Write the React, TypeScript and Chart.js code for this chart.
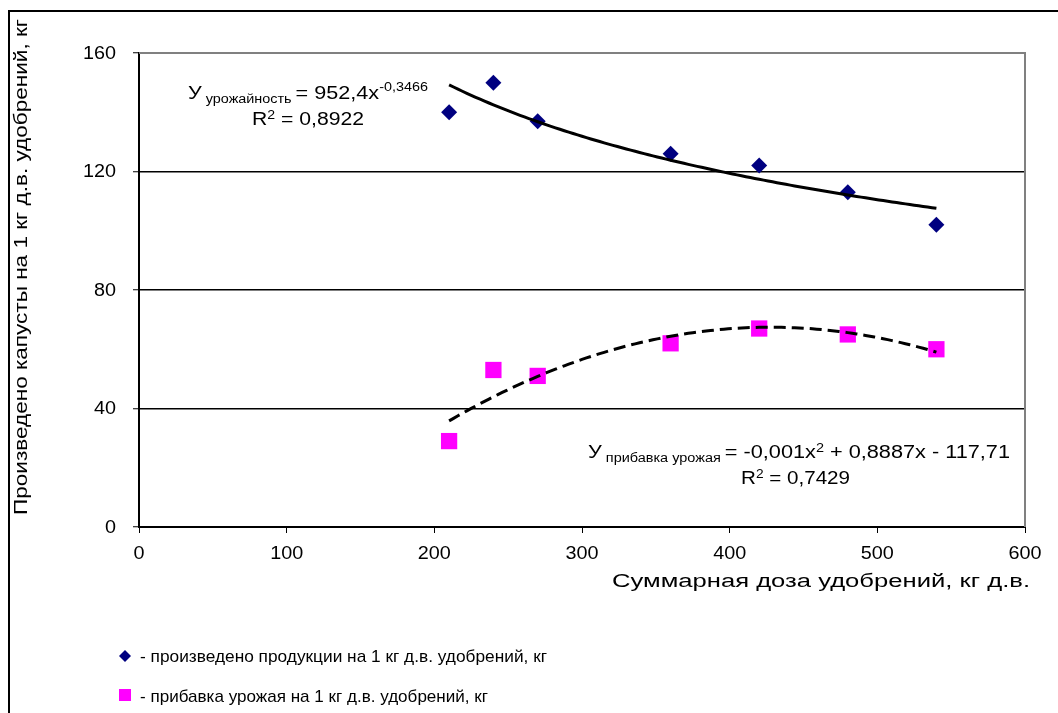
import React, { useEffect, useRef } from 'react';
import { Chart, registerables } from 'chart.js';

Chart.register(...registerables);

// ---- data ----
const doses = [210, 240, 270, 360, 420, 480, 540];
const yieldPerKg = [140, 150, 137, 126, 122, 113, 102];
const gainPerKg = [29, 53, 51, 62, 67, 65, 60];
const xTickValues = [0, 100, 200, 300, 400, 500, 600];
const yTickValues = [0, 40, 80, 120, 160];

const yTitle = 'Произведено капусты на 1 кг д.в. удобрений, кг';
const xTitle = 'Суммарная доза удобрений, кг д.в.';
const legendLabels = [
  '- произведено продукции на 1 кг д.в. удобрений, кг',
  '- прибавка урожая на 1 кг д.в. удобрений, кг',
];
const eqYieldName = 'урожайность';
const eqYieldBody = '952,4x';
const eqYieldExp = '-0,3466';
const eqYieldR2 = '0,8922';
const eqGainName = 'прибавка урожая';
const eqGainPart1 = '-0,001x';
const eqGainPart2 = '+ 0,8887x - 117,71';
const eqGainR2 = '0,7429';

const NAVY = '#000080';
const MAGENTA = '#FF00FF';
const FONT = '"Liberation Sans", Arial, sans-serif';

// ---- least-squares trend lines (as Excel does) ----
function powerFit(xs: number[], ys: number[]) {
  const n = xs.length;
  let sx = 0, sy = 0, sxx = 0, sxy = 0;
  for (let i = 0; i < n; i++) {
    const lx = Math.log(xs[i]);
    const ly = Math.log(ys[i]);
    sx += lx; sy += ly; sxx += lx * lx; sxy += lx * ly;
  }
  const b = (n * sxy - sx * sy) / (n * sxx - sx * sx);
  const a = Math.exp((sy - b * sx) / n);
  return (x: number) => a * Math.pow(x, b);
}

function quadFit(xs: number[], ys: number[]) {
  const m = xs.reduce((s, v) => s + v, 0) / xs.length;
  const S = [0, 0, 0, 0, 0];
  const T = [0, 0, 0];
  xs.forEach((x0, i) => {
    const u = x0 - m;
    for (let k = 0; k < 5; k++) S[k] += Math.pow(u, k);
    for (let k = 0; k < 3; k++) T[k] += Math.pow(u, k) * ys[i];
  });
  const A = [
    [S[0], S[1], S[2], T[0]],
    [S[1], S[2], S[3], T[1]],
    [S[2], S[3], S[4], T[2]],
  ];
  for (let c = 0; c < 3; c++) {
    for (let r = c + 1; r < 3; r++) {
      const f = A[r][c] / A[c][c];
      for (let k = c; k < 4; k++) A[r][k] -= f * A[c][k];
    }
  }
  const coef = [0, 0, 0];
  for (let r = 2; r >= 0; r--) {
    let s = A[r][3];
    for (let k = r + 1; k < 3; k++) s -= A[r][k] * coef[k];
    coef[r] = s / A[r][r];
  }
  return (x: number) => {
    const u = x - m;
    return coef[0] + coef[1] * u + coef[2] * u * u;
  };
}

function trendPoints(xs: number[], f: (x: number) => number) {
  const lo = Math.min(...xs);
  const hi = Math.max(...xs);
  const pts: { x: number; y: number }[] = [];
  const steps = 110;
  for (let i = 0; i <= steps; i++) {
    const x = lo + ((hi - lo) * i) / steps;
    pts.push({ x, y: f(x) });
  }
  return pts;
}

type Seg = { text: string; size: number; dy?: number };

function segWidth(ctx: CanvasRenderingContext2D, segs: Seg[]) {
  let w = 0;
  for (const s of segs) {
    ctx.font = `${s.size}px ${FONT}`;
    w += ctx.measureText(s.text).width;
  }
  return w;
}

// draws a run of text segments stretched to span [left,right] on a baseline
function drawSegs(ctx: CanvasRenderingContext2D, segs: Seg[], left: number, right: number, baseline: number) {
  const w = segWidth(ctx, segs);
  const sx = (right - left) / w;
  ctx.save();
  ctx.translate(left, baseline);
  ctx.scale(sx, 1);
  ctx.textAlign = 'left';
  ctx.textBaseline = 'alphabetic';
  ctx.fillStyle = '#000';
  let x = 0;
  for (const s of segs) {
    ctx.font = `${s.size}px ${FONT}`;
    ctx.fillText(s.text, x, s.dy || 0);
    x += ctx.measureText(s.text).width;
  }
  ctx.restore();
}

const TICK_STRETCH = 1.1;

function drawStretched(ctx: CanvasRenderingContext2D, text: string, size: number, x: number, y: number, align: 'left' | 'center' | 'right', baseline: CanvasTextBaseline) {
  ctx.save();
  ctx.translate(x, y);
  ctx.scale(TICK_STRETCH, 1);
  ctx.font = `${size}px ${FONT}`;
  ctx.textAlign = align;
  ctx.textBaseline = baseline;
  ctx.fillStyle = '#000';
  ctx.fillText(text, 0, 0);
  ctx.restore();
}

const framePlugin = {
  id: 'frameAndTexts',
  beforeDatasetsDraw(chart: any) {
    const { ctx, chartArea } = chart;
    ctx.save();
    ctx.strokeStyle = '#808080';
    ctx.lineWidth = 2;
    ctx.beginPath();
    ctx.moveTo(chartArea.left, chartArea.top);
    ctx.lineTo(chartArea.right, chartArea.top);
    ctx.lineTo(chartArea.right, chartArea.bottom);
    ctx.stroke();
    ctx.restore();
  },
  afterDraw(chart: any) {
    const { ctx } = chart;
    const xs = chart.scales.x;
    const ys = chart.scales.y;
    ctx.save();

    // tick labels
    for (const v of yTickValues) {
      drawStretched(ctx, String(v), 18, 116, ys.getPixelForValue(v) + 1, 'right', 'middle');
    }
    for (const v of xTickValues) {
      drawStretched(ctx, String(v), 18, xs.getPixelForValue(v), 559, 'center', 'alphabetic');
    }

    // axis titles
    drawSegs(ctx, [{ text: xTitle, size: 18 }], 612, 1030, 587);
    ctx.save();
    ctx.translate(27, 515);
    ctx.rotate(-Math.PI / 2);
    drawSegs(ctx, [{ text: yTitle, size: 18 }], 0, 496, 0);
    ctx.restore();

    // equations
    drawSegs(ctx, [
      { text: 'У', size: 18 },
      { text: ' ' + eqYieldName + ' ', size: 12, dy: 4 },
      { text: '= ' + eqYieldBody, size: 18 },
      { text: eqYieldExp, size: 12, dy: -8 },
    ], 188, 428, 99);
    drawSegs(ctx, [
      { text: 'R', size: 18 },
      { text: '2', size: 12, dy: -6 },
      { text: ' = ' + eqYieldR2, size: 18 },
    ], 252, 364, 125);
    drawSegs(ctx, [
      { text: 'У', size: 18 },
      { text: ' ' + eqGainName + ' ', size: 12, dy: 4 },
      { text: '= ' + eqGainPart1, size: 18 },
      { text: '2', size: 12, dy: -6 },
      { text: ' ' + eqGainPart2, size: 18 },
    ], 588, 1010, 458);
    drawSegs(ctx, [
      { text: 'R', size: 18 },
      { text: '2', size: 12, dy: -6 },
      { text: ' = ' + eqGainR2, size: 18 },
    ], 741, 850, 484);

    // legend
    ctx.fillStyle = NAVY;
    ctx.beginPath();
    ctx.moveTo(125, 650);
    ctx.lineTo(131, 656);
    ctx.lineTo(125, 662);
    ctx.lineTo(119, 656);
    ctx.closePath();
    ctx.fill();
    ctx.fillStyle = MAGENTA;
    ctx.fillRect(119, 689, 12, 12);
    drawSegs(ctx, [{ text: legendLabels[0], size: 17 }], 140, 547, 662);
    drawSegs(ctx, [{ text: legendLabels[1], size: 17 }], 140, 488, 702);

    // outer frame
    ctx.strokeStyle = '#000';
    ctx.lineWidth = 2;
    ctx.beginPath();
    ctx.moveTo(9, 713);
    ctx.lineTo(9, 11);
    ctx.lineTo(1058, 11);
    ctx.stroke();

    ctx.restore();
  },
};

export default function App() {
  const ref = useRef<HTMLCanvasElement>(null);

  useEffect(() => {
    if (!ref.current) return;
    const yieldTrend = trendPoints(doses, powerFit(doses, yieldPerKg));
    const gainTrend = trendPoints(doses, quadFit(doses, gainPerKg));

    const chart = new Chart(ref.current, {
      type: 'scatter',
      data: {
        datasets: [
          {
            label: 'trend yield',
            data: yieldTrend,
            showLine: true,
            borderColor: '#000',
            borderWidth: 3,
            pointRadius: 0,
            order: 0,
          },
          {
            label: 'trend gain',
            data: gainTrend,
            showLine: true,
            borderColor: '#000',
            borderWidth: 3,
            borderDash: [12, 6],
            pointRadius: 0,
            order: 0,
          },
          {
            label: legendLabels[0],
            data: doses.map((x, i) => ({ x, y: yieldPerKg[i] })),
            pointStyle: 'rectRot',
            pointRadius: 8,
            backgroundColor: NAVY,
            borderColor: NAVY,
            borderWidth: 0,
            order: 1,
          },
          {
            label: legendLabels[1],
            data: doses.map((x, i) => ({ x, y: gainPerKg[i] })),
            pointStyle: 'rect',
            pointRadius: 11.5,
            backgroundColor: MAGENTA,
            borderColor: MAGENTA,
            borderWidth: 0,
            order: 1,
          },
        ],
      },
      options: {
        responsive: false,
        animation: false,
        events: [],
        layout: { padding: { left: 0, top: 53, right: 33, bottom: 0 } },
        plugins: { legend: { display: false }, tooltip: { enabled: false } },
        scales: {
          x: {
            type: 'linear',
            min: 0,
            max: 600,
            ticks: { display: false, stepSize: 100 },
            grid: {
              drawOnChartArea: false,
              drawTicks: true,
              tickLength: 6,
              tickColor: '#000',
              tickWidth: 1,
            },
            border: { display: true, color: '#000', width: 2 },
            afterFit: (s: any) => { s.height = 186; },
          },
          y: {
            type: 'linear',
            min: 0,
            max: 160,
            ticks: { display: false, stepSize: 40 },
            grid: {
              color: (c: any) => (c.tick && (c.tick.value === 160 || c.tick.value === 0) ? 'rgba(0,0,0,0)' : '#000'),
              lineWidth: 1.5,
              drawTicks: true,
              tickLength: 6,
              tickColor: '#000',
              tickWidth: 1,
            },
            border: { display: true, color: '#000', width: 2 },
            afterFit: (s: any) => { s.width = 139; },
          },
        },
      },
      plugins: [framePlugin],
    } as any);
    return () => chart.destroy();
  }, []);

  return (
    <div style={{ position: 'absolute', left: 0, top: 0, width: 1058, height: 713, background: '#fff' }}>
      <canvas ref={ref} width={1058} height={713} style={{ display: 'block' }} />
    </div>
  );
}
